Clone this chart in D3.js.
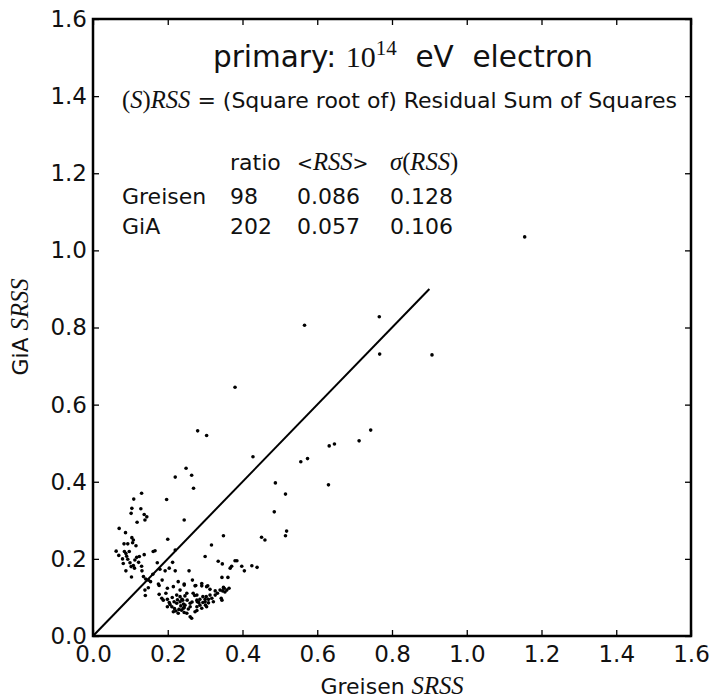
<!DOCTYPE html>
<html>
<head>
<meta charset="utf-8">
<script src="https://cdn.jsdelivr.net/npm/d3@7"></script>
<style>
body { margin: 0; background: #fff; }
svg { display: block; font-family: "DejaVu Sans", sans-serif; fill: #111; }
.math { font-family: "Liberation Serif", serif; font-style: italic; font-size: 1.12em; }
.roman { font-family: "Liberation Serif", serif; font-size: 1.12em; }
</style>
</head>
<body>
<svg id="chart" width="714" height="700"></svg>
<script>
// Greisen SRSS (x) vs GiA SRSS (y), one entry per shower
var greisenSRSS = [1.155,0.766,0.566,0.767,0.907,0.380,0.743,0.712,0.632,0.646,0.574,0.556,0.630,0.280,0.304,0.428,0.249,0.264,0.220,0.269,
	0.488,0.515,0.485,0.244,0.197,0.130,0.109,0.104,0.128,0.102,0.137,0.144,0.139,0.118,0.070,0.087,0.200,0.515,0.518,0.451,
	0.460,0.349,0.317,0.300,0.335,0.346,0.380,0.385,0.367,0.371,0.398,0.405,0.425,0.439,0.257,0.345,0.361,
	0.083,0.093,0.104,0.108,0.106,0.115,0.062,0.069,0.084,0.088,0.090,0.079,0.093,0.081,0.099,0.108,0.117,0.122,0.097,0.111,
	0.130,0.131,0.135,0.103,0.088,0.102,0.112,0.124,0.161,0.166,0.137,0.172,0.213,0.204,0.220,0.220,0.141,0.148,0.179,0.193,
	0.139,0.148,0.175,0.177,0.154,0.140,0.177,
	0.184,0.188,0.199,0.204,0.206,0.217,0.211,0.224,0.233,0.238,0.242,0.252,0.260,0.215,0.228,0.242,0.251,0.260,0.264,0.273,
	0.278,0.283,0.294,0.300,0.309,0.318,0.327,0.333,0.340,0.351,0.358,0.364,0.345,0.322,0.304,0.291,0.244,0.230,0.199,0.195,
	0.199,0.215,0.228,0.244,0.251,0.273,0.268,0.278,0.291,0.304,0.313,0.327,0.278,0.286,0.233,0.224,0.233,0.246,
	0.266,0.275,0.291,0.244,0.307,0.349,0.347,0.353,0.313,0.303,0.300,0.343,0.272,0.286,0.279,0.294,0.240,0.260,0.246,0.237,
	0.244,0.278,0.301,0.309,0.218,0.222,0.235,0.212,0.226,0.255,0.265,0.160,0.185];
var giaSRSS = [1.035,0.828,0.806,0.731,0.729,0.645,0.534,0.506,0.493,0.498,0.460,0.452,0.392,0.532,0.520,0.465,0.435,0.417,0.412,0.383,
	0.397,0.368,0.322,0.301,0.354,0.370,0.355,0.331,0.330,0.318,0.315,0.309,0.301,0.295,0.279,0.268,0.251,0.260,0.272,0.256,
	0.249,0.260,0.236,0.206,0.194,0.187,0.195,0.195,0.176,0.181,0.181,0.169,0.182,0.178,0.169,0.152,0.152,
	0.239,0.239,0.255,0.249,0.242,0.234,0.220,0.209,0.219,0.214,0.207,0.200,0.199,0.188,0.190,0.183,0.204,0.191,0.219,0.176,
	0.181,0.169,0.154,0.153,0.169,0.180,0.197,0.206,0.219,0.221,0.211,0.190,0.191,0.176,0.169,0.223,0.148,0.145,0.173,0.169,
	0.119,0.125,0.135,0.131,0.141,0.105,0.108,
	0.098,0.093,0.095,0.087,0.082,0.089,0.076,0.085,0.089,0.095,0.083,0.093,0.085,0.063,0.059,0.072,0.059,0.050,0.046,0.063,
	0.076,0.087,0.102,0.089,0.095,0.098,0.106,0.111,0.119,0.124,0.119,0.124,0.093,0.089,0.076,0.072,0.074,0.069,0.076,0.111,
	0.124,0.128,0.141,0.135,0.111,0.130,0.111,0.106,0.130,0.128,0.121,0.117,0.093,0.080,0.119,0.106,0.102,0.104,
	0.145,0.131,0.136,0.132,0.130,0.126,0.117,0.114,0.106,0.102,0.095,0.098,0.105,0.095,0.089,0.087,0.093,0.076,0.080,0.067,
	0.061,0.066,0.080,0.086,0.071,0.065,0.078,0.100,0.094,0.070,0.088,0.160,0.145];

var tickValues = [0.0, 0.2, 0.4, 0.6, 0.8, 1.0, 1.2, 1.4, 1.6];
var diagonal = [0, 0.9];

var rowNames = ["Greisen", "GiA"];
var ratios = ["98", "202"];
var meanRSS = ["0.086", "0.057"];
var sigmaRSS = ["0.128", "0.106"];

var svg = d3.select("#chart");
var x = d3.scaleLinear().domain([0, 1.6]).range([93, 691]);
var y = d3.scaleLinear().domain([0, 1.6]).range([636, 19]);

function drawAxes() {
	var fmt = d3.format(".1f");
	var bottom = svg.append("g").attr("transform", "translate(0,636)")
		.call(d3.axisBottom(x).tickValues(tickValues).tickSizeInner(-6).tickSizeOuter(0).tickPadding(10).tickFormat(fmt));
	var left = svg.append("g").attr("transform", "translate(93,0)")
		.call(d3.axisLeft(y).tickValues(tickValues).tickSizeInner(-6).tickSizeOuter(0).tickPadding(6).tickFormat(fmt));
	var top = svg.append("g").attr("transform", "translate(0,19)")
		.call(d3.axisTop(x).tickValues(tickValues).tickSizeInner(-6).tickSizeOuter(0).tickFormat(""));
	var right = svg.append("g").attr("transform", "translate(691,0)")
		.call(d3.axisRight(y).tickValues(tickValues).tickSizeInner(-6).tickSizeOuter(0).tickFormat(""));
	[bottom, left, top, right].forEach(function(g) {
		g.select(".domain").remove();
		g.selectAll(".tick line").attr("stroke", "#000").attr("stroke-width", 1.3);
		g.selectAll(".tick text").attr("fill", "#111")
			.style("font-family", "DejaVu Sans").style("font-size", "23px");
	});
	svg.append("rect").attr("x", x(0)).attr("y", y(1.6))
		.attr("width", x(1.6) - x(0)).attr("height", y(0) - y(1.6))
		.attr("fill", "none").attr("stroke", "#000").attr("stroke-width", 2.5);
}

function drawMarks() {
	svg.append("line")
		.attr("x1", x(diagonal[0])).attr("y1", y(diagonal[0]))
		.attr("x2", x(diagonal[1])).attr("y2", y(diagonal[1]))
		.attr("stroke", "#000").attr("stroke-width", 2);
	svg.append("g").selectAll("circle")
		.data(d3.range(greisenSRSS.length))
		.enter().append("circle")
		.attr("cx", function(i) { return x(greisenSRSS[i]); })
		.attr("cy", function(i) { return y(giaSRSS[i]); })
		.attr("r", 1.8)
		.attr("fill", "#000");
}

function drawLabels() {
	// axis titles
	var xl = svg.append("text").attr("x", 392).attr("y", 694)
		.attr("text-anchor", "middle").style("font-size", "22px");
	xl.append("tspan").text("Greisen ");
	xl.append("tspan").attr("class", "math").text("SRSS");

	var yl = svg.append("text").attr("transform", "translate(28,327) rotate(-90)")
		.attr("text-anchor", "middle").style("font-size", "22px");
	yl.append("tspan").text("GiA ");
	yl.append("tspan").attr("class", "math").text("SRSS");

	// title
	var t = svg.append("text").attr("x", 213).attr("y", 67)
		.style("font-size", "29.5px").style("white-space", "pre");
	t.append("tspan").text("primary: ");
	t.append("tspan").attr("class", "roman").style("font-size", "30px").text("10");
	t.append("tspan").attr("class", "roman").attr("dy", -12).style("font-size", "21px").text("14");
	t.append("tspan").attr("dy", 12).text("  eV  electron");

	var s = svg.append("text").attr("x", 122).attr("y", 108)
		.style("font-size", "22px").style("white-space", "pre");
	s.append("tspan").attr("class", "roman").text("(");
	s.append("tspan").attr("class", "math").text("S");
	s.append("tspan").attr("class", "roman").text(")");
	s.append("tspan").attr("class", "math").text("RSS");
	s.append("tspan").text(" = (Square root of) Residual Sum of Squares");

	// little table
	var cols = [122, 230, 297, 390];
	var head = svg.append("g").style("font-size", "22px");
	head.append("text").attr("x", cols[1]).attr("y", 170).text("ratio");
	var h2 = head.append("text").attr("x", cols[2]).attr("y", 170);
	h2.append("tspan").style("font-size", "19px").text("<");
	h2.append("tspan").attr("class", "math").text("RSS");
	h2.append("tspan").style("font-size", "19px").text(">");
	var h3 = head.append("text").attr("x", cols[3]).attr("y", 170);
	h3.append("tspan").attr("class", "math").text("σ");
	h3.append("tspan").attr("class", "roman").text("(");
	h3.append("tspan").attr("class", "math").text("RSS");
	h3.append("tspan").attr("class", "roman").text(")");

	var rows = svg.append("g").style("font-size", "22px")
		.selectAll("g").data(rowNames).enter().append("g");
	rows.each(function(name, r) {
		var yy = 204 + r * 30;
		var g = d3.select(this);
		g.append("text").attr("x", cols[0]).attr("y", yy).text(name);
		g.append("text").attr("x", cols[1]).attr("y", yy).text(ratios[r]);
		g.append("text").attr("x", cols[2]).attr("y", yy).text(meanRSS[r]);
		g.append("text").attr("x", cols[3]).attr("y", yy).text(sigmaRSS[r]);
	});
}

drawMarks();
drawAxes();
drawLabels();
</script>
</body>
</html>
